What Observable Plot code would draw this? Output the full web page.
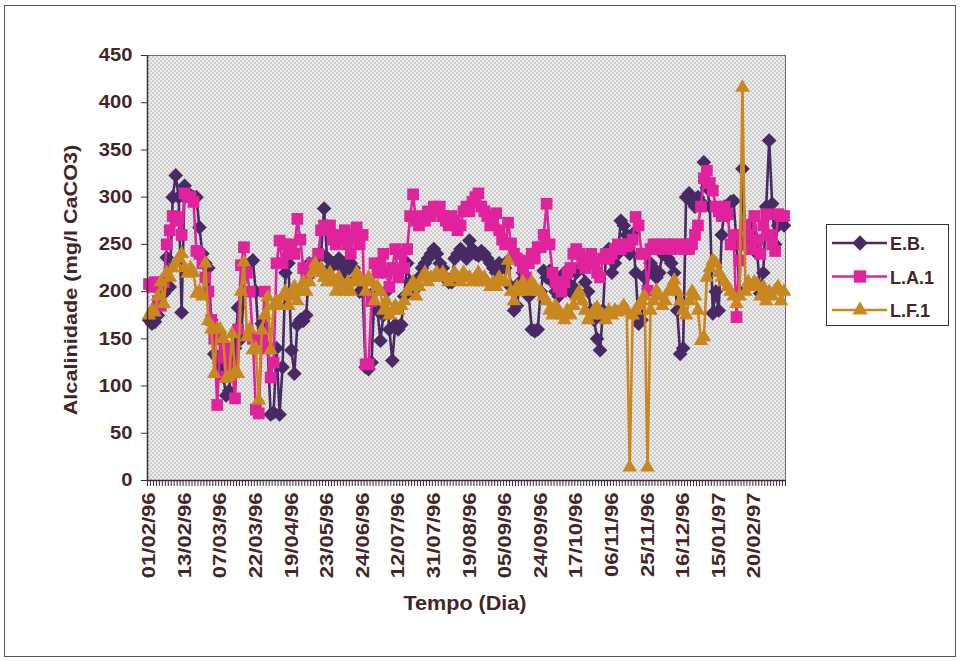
<!DOCTYPE html>
<html>
<head>
<meta charset="utf-8">
<script src="https://cdn.jsdelivr.net/npm/d3@7"></script>
<script src="https://cdn.jsdelivr.net/npm/@observablehq/plot@0.6"></script>
<style>
  html, body { margin: 0; padding: 0; background: #ffffff; }
  #chart { position: relative; width: 961px; height: 661px; }
</style>
</head>
<body>
<div id="chart"></div>
<script>
// ---------- data ----------
const tickLabels = ["01/02/96","13/02/96","07/03/96","22/03/96","19/04/96","23/05/96","24/06/96","12/07/96","31/07/96","19/08/96","05/09/96","24/09/96","17/10/96","06/11/96","25/11/96","16/12/96","15/01/97","20/02/97"];
const labelStep = 12; // one date label every 12 samples
const seriesNames = ["E.B.", "L.A.1", "L.F.1"];
const yTicks = [0, 50, 100, 150, 200, 250, 300, 350, 400, 450];

const ebValues = [
  170,166,168,175,200,198,236,205,300,323,300,178,
  312,305,300,300,300,268,240,230,225,170,134,130,
  120,110,90,95,130,140,183,150,200,225,230,233,
  200,150,166,160,140,70,72,140,70,120,220,230,
  138,113,165,170,169,175,230,220,228,235,240,288,
  236,225,230,230,235,225,220,233,230,225,215,200,
  200,120,118,125,200,180,148,175,200,160,127,165,
  160,165,195,230,210,200,205,215,225,230,235,240,
  245,240,230,225,215,210,210,235,240,245,240,235,
  254,245,240,238,243,240,235,230,225,220,230,225,
  225,233,205,180,185,210,220,215,195,160,158,160,
  200,222,215,222,210,200,195,215,220,210,200,205,
  220,240,225,210,200,180,170,150,138,180,240,245,
  220,230,240,275,270,260,240,261,220,166,170,215,
  220,230,225,215,220,240,245,235,230,220,180,134,
  140,300,304,295,290,300,295,337,310,290,177,200,
  180,260,290,280,295,296,250,200,330,250,270,260,
  250,240,198,220,290,360,293,250,270,275,270
];
const laValues = [
  208,205,210,190,185,210,250,265,280,275,279,260,
  304,300,300,295,243,240,230,215,200,170,150,80,
  150,130,110,140,120,87,160,228,247,220,200,150,
  75,71,150,200,140,109,125,230,254,230,250,240,
  250,240,277,255,225,215,220,230,225,240,265,270,
  265,270,255,250,260,255,265,250,240,260,268,250,
  260,123,123,190,230,220,230,240,220,205,225,245,
  215,240,225,245,280,303,275,270,280,275,285,280,
  290,285,290,280,275,270,280,275,265,270,285,290,
  285,295,300,304,290,285,280,270,275,283,265,255,
  250,273,251,240,235,233,225,215,230,240,235,247,
  247,260,293,250,220,210,205,200,210,220,225,240,
  245,240,230,225,235,240,230,220,215,235,240,235,
  240,245,250,245,250,248,250,255,279,270,240,240,
  201,245,250,250,245,248,250,250,245,250,248,250,
  245,250,245,250,260,270,290,320,328,315,307,290,
  285,280,290,282,250,260,173,233,250,270,260,245,
  280,255,240,270,282,260,250,243,282,280,280
];
const lfValues = [
  175,180,178,195,210,187,220,215,225,230,235,240,
  225,219,225,220,198,200,195,230,169,160,113,160,
  160,150,108,110,155,115,113,200,231,152,160,138,
  140,85,159,175,194,138,185,190,185,195,200,185,
  195,205,190,200,210,200,210,220,230,220,225,215,
  210,220,210,200,215,205,200,210,200,210,220,215,
  210,200,215,210,190,205,200,180,190,175,180,185,
  180,185,190,200,205,210,195,205,215,220,210,215,
  215,220,215,220,215,210,215,220,215,210,220,215,
  215,210,215,220,210,215,210,205,210,205,215,210,
  210,233,200,190,205,200,210,205,200,210,205,200,
  200,195,190,180,175,185,180,175,170,180,175,185,
  195,200,190,180,170,175,180,183,178,175,170,180,
  175,180,178,180,185,180,14,175,180,185,190,195,
  14,180,190,201,195,185,190,200,205,212,200,190,
  180,175,190,200,195,180,148,152,215,225,233,230,
  220,215,210,205,200,195,187,195,416,200,210,205,
  210,208,195,205,190,200,195,201,205,190,200
];

// ---------- styling ----------
const colors = ["#472a63", "#e0229c", "#c9871f"];
const symbols = ["diamond2", "square", "triangle"];
const radii = [6.6, 6.6, 5.4];
const textColor = "#452626";
const font = "'Liberation Sans', Arial, Helvetica, sans-serif";

const seriesData = [ebValues, laValues, lfValues].map((arr, k) =>
  arr.map((v, i) => ({ i, v, s: seriesNames[k] })));
const n = ebValues.length;

const seriesMarks = seriesData.flatMap((data, k) => [
  Plot.line(data, { x: "i", y: "v", stroke: colors[k], strokeWidth: 2.6 }),
  Plot.dot(data, { x: "i", y: "v", symbol: symbols[k], r: radii[k], fill: colors[k], stroke: "none" })
]);

const chart = Plot.plot({
  width: 961,
  height: 661,
  marginLeft: 147,
  marginRight: 176,
  marginTop: 55,
  marginBottom: 181,
  x: { domain: [-0.5, n - 0.5] },
  y: { domain: [0, 450] },
  style: { fontFamily: font, color: textColor, background: "transparent", overflow: "visible" },
  marks: [
    Plot.frame({ fill: "url(#dots)", stroke: "#6f6f6f" }),
    Plot.axisY({ ticks: yTicks, tickSize: 6, tickPadding: 9, fontSize: 18, label: null, stroke: "#3b2b3b" }),
    Plot.axisX({ ticks: d3.range(-0.5, n + 0.5, 1), tickSize: 6, tickFormat: () => "", label: null, stroke: "#3b2b3b" }),
    Plot.axisX({ ticks: tickLabels.map((_, j) => j * labelStep), tickFormat: v => tickLabels[Math.round(v / labelStep)],
                 tickRotate: -90, tickSize: 0, tickPadding: 12, fontSize: 19, label: null }),
    ...seriesMarks,
    Plot.ruleX([-0.5], { stroke: "#3b2b3b", strokeWidth: 1.5 }),
    Plot.ruleY([0], { stroke: "#3b2b3b", strokeWidth: 1.5 })
  ]
});

document.getElementById("chart").appendChild(chart);

// ---------- post-processing ----------
const svg = d3.select(chart);
const defs = svg.insert("defs", ":first-child");
const pat = defs.append("pattern").attr("id", "dots").attr("width", 4).attr("height", 4)
  .attr("patternUnits", "userSpaceOnUse");
pat.append("rect").attr("width", 4).attr("height", 4).attr("fill", "#ececec");
pat.append("rect").attr("x", 0).attr("y", 0).attr("width", 1).attr("height", 1).attr("fill", "#757575");
pat.append("rect").attr("x", 2).attr("y", 2).attr("width", 1).attr("height", 1).attr("fill", "#757575");

svg.selectAll("text").attr("font-weight", "bold").attr("fill", textColor);

// stretch the rotated date labels along their reading direction
svg.selectAll('g[aria-label="x-axis tick label"] text').each(function () {
  const t = this.getAttribute("transform") || "";
  this.setAttribute("transform", t + " scale(1.16,1)");
});
svg.selectAll('g[aria-label="y-axis tick label"] text').each(function () {
  const t = this.getAttribute("transform") || "";
  this.setAttribute("transform", t + " scale(1.12,1)");
});

// outer border
svg.append("rect").attr("x", 4.5).attr("y", 5.5).attr("width", 951).attr("height", 651)
  .attr("fill", "none").attr("stroke", "#555").attr("stroke-width", 1);

// axis titles
svg.append("text")
  .attr("transform", "translate(77,280) rotate(-90) scale(1.14,1)")
  .attr("text-anchor", "middle").attr("font-family", font).attr("font-size", 19)
  .attr("font-weight", "bold").attr("fill", textColor)
  .text("Alcalinidade (mg/l CaCO3)");
svg.append("text")
  .attr("transform", "translate(465,610) scale(1.08,1)")
  .attr("text-anchor", "middle").attr("font-family", font).attr("font-size", 20)
  .attr("font-weight", "bold").attr("fill", textColor)
  .text("Tempo (Dia)");

// legend
const lg = svg.append("g");
lg.append("rect").attr("x", 826.5).attr("y", 224.5).attr("width", 122).attr("height", 101)
  .attr("fill", "#ffffff").attr("stroke", "#333").attr("stroke-width", 1);
const symFns = [d3.symbolDiamond2, d3.symbolSquare, d3.symbolTriangle];
seriesNames.forEach((name, k) => {
  const yy = 243 + k * 33.5;
  lg.append("line").attr("x1", 832).attr("x2", 887).attr("y1", yy).attr("y2", yy)
    .attr("stroke", colors[k]).attr("stroke-width", 2.6);
  lg.append("path").attr("transform", `translate(860,${yy})`)
    .attr("d", d3.symbol(symFns[k], Math.PI * radii[k] * radii[k] * 1.1)())
    .attr("fill", colors[k]);
  lg.append("text").attr("x", 890).attr("y", yy + 7).attr("text-anchor", "start")
    .attr("font-family", font).attr("font-size", 18).attr("font-weight", "bold")
    .attr("fill", textColor).text(name);
});
</script>
</body>
</html>
